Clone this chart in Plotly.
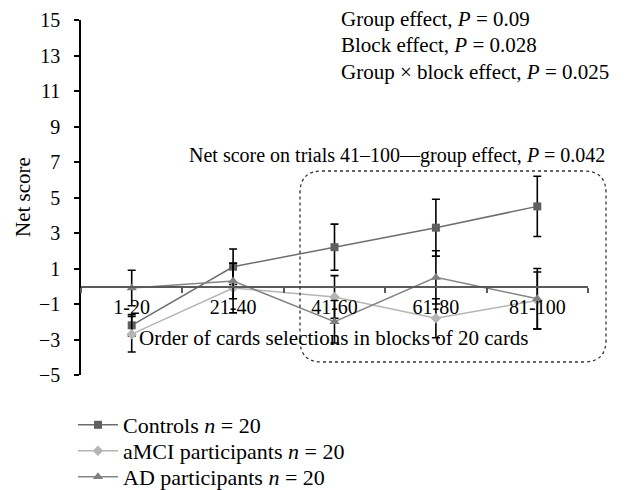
import plotly.graph_objects as go

categories = ["1-20", "21-40", "41-60", "61-80", "81-100"]

controls = [-2.2, 1.1, 2.2, 3.3, 4.5]
controls_err = [0.6, 1.0, 1.3, 1.6, 1.7]

amci = [-2.7, -0.1, -0.6, -1.8, -0.8]
amci_err = [1.0, 1.4, 1.2, 1.1, 1.6]

ad = [-0.1, 0.3, -2.0, 0.5, -0.7]
ad_err = [1.0, 1.0, 1.2, 1.5, 1.7]

y_ticks = [-5, -3, -1, 1, 3, 5, 7, 9, 11, 13, 15]

FONT = "Liberation Serif"
FS = 20
FA = 21
FL = 22

fig = go.Figure()

def add_series(name, y, err, line_color, marker_color, symbol, msize, legend):
    fig.add_trace(go.Scatter(
        x=categories, y=y, name=name, mode="lines+markers",
        line=dict(color=line_color, width=1.5),
        marker=dict(color=marker_color, symbol=symbol, size=msize),
        error_y=dict(type="data", array=err, visible=True,
                     color="black", thickness=1.6, width=4),
        cliponaxis=False, legend=legend,
    ))

add_series("Controls <i>n</i> = 20", controls, controls_err, "#6e6e6e", "#5f5f5f", "square", 8, "legend")
add_series("aMCI participants <i>n</i> = 20", amci, amci_err, "#b5b5b5", "#b5b5b5", "diamond", 8, "legend2")
add_series("AD participants <i>n</i> = 20", ad, ad_err, "#858585", "#7f7f7f", "triangle-up", 9, "legend3")

# page body has an 8px margin: figure is drawn offset by (8, 8)
OFF = 8
W, H = 626 - OFF, 490 - OFF
L, T = 81 - OFF, 20 - OFF
R = W - (588 - OFF)
B = H - (375 - OFF)
pw, ph = 588 - 81, 375 - 20

def px(x):
    return (x - 81) / pw

def py(y):
    return (375 - y) / ph

# rounded dotted rectangle (paper coords)
x0, x1, y0, y1 = px(300), px(606), py(362), py(171)
rx, ry = 22 / pw, 22 / ph
path = (f"M {x0+rx} {y1} L {x1-rx} {y1} Q {x1} {y1} {x1} {y1-ry} "
        f"L {x1} {y0+ry} Q {x1} {y0} {x1-rx} {y0} L {x0+rx} {y0} "
        f"Q {x0} {y0} {x0} {y0+ry} L {x0} {y1-ry} Q {x0} {y1} {x0+rx} {y1} Z")

def leg(ycenter):
    return dict(x=px(73), y=py(ycenter), xanchor="left", yanchor="middle",
                font=dict(family=FONT, size=FL), itemwidth=40,
                bgcolor="rgba(0,0,0,0)")

fig.update_layout(
    width=W, height=H,
    margin=dict(l=L, r=R, t=T, b=B, autoexpand=False),
    paper_bgcolor="white", plot_bgcolor="white",
    font=dict(family=FONT, size=FS, color="black"),
    showlegend=True,
    legend=leg(425), legend2=leg(451), legend3=leg(477),
    xaxis=dict(
        type="category", range=[-0.5, 4.5],
        anchor="free", position=py(287),
        showline=True, linecolor="#5a5a5a", linewidth=2,
        ticks="outside", ticklen=5, tickcolor="#5a5a5a", tickwidth=1.5,
        tickson="boundaries", showgrid=False, zeroline=False,
        ticklabelstandoff=2,
        tickfont=dict(family=FONT, size=FS),
    ),
    yaxis=dict(
        range=[-5, 15], tickvals=y_ticks,
        showline=True, linecolor="black", linewidth=1.5,
        ticks="outside", ticklen=5, tickcolor="black", tickwidth=1.5,
        showgrid=False, zeroline=False, ticklabelstandoff=10,
        tickfont=dict(family=FONT, size=FS),
    ),
    shapes=[dict(type="path", xref="paper", yref="paper", path=path,
                 line=dict(color="#333333", width=1.3, dash="dot"))],
)

ann = [
    dict(text="Group effect, <i>P</i> = 0.09", x=px(339), y=py(19), size=FA),
    dict(text="Block effect, <i>P</i> = 0.028", x=px(339), y=py(45), size=FA),
    dict(text="Group × block effect, <i>P</i> = 0.025", x=px(339), y=py(72), size=FA),
    dict(text="Net score on trials 41–100—group effect, <i>P</i> = 0.042", x=px(187), y=py(155), size=20),
]
for a in ann:
    size = a.pop("size")
    fig.add_annotation(xref="paper", yref="paper", xanchor="left", yanchor="middle",
                       showarrow=False, font=dict(family=FONT, size=size), **a)

fig.add_annotation(text="Order of cards selections in blocks of 20 cards",
                   xref="paper", yref="paper", x=px(334), y=py(338),
                   xanchor="center", yanchor="middle", showarrow=False,
                   font=dict(family=FONT, size=FA))
fig.add_annotation(text="Net score", xref="paper", yref="paper",
                   x=px(23), y=py(197), textangle=-90,
                   xanchor="center", yanchor="middle", showarrow=False,
                   font=dict(family=FONT, size=FA))

fig.write_html("out.html")
